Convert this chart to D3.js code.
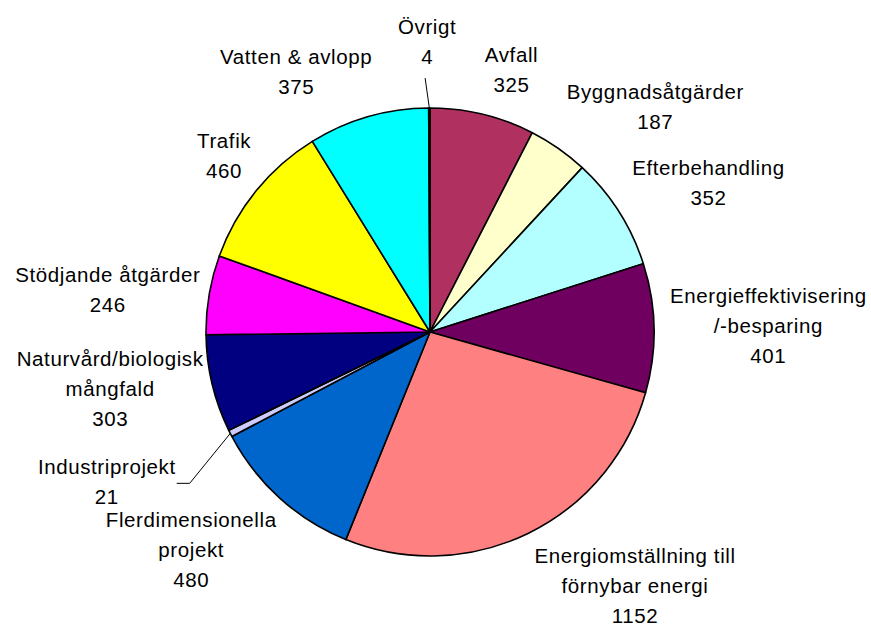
<!DOCTYPE html>
<html>
<head>
<meta charset="utf-8">
<script src="https://cdn.jsdelivr.net/npm/d3@7"></script>
<style>
  body { margin: 0; background: #fff; }
  text { font-family: "Liberation Sans", Arial, sans-serif; font-size: 20.5px; letter-spacing: 0.6px; fill: #000; }
</style>
</head>
<body>
<svg id="chart" width="871" height="628"></svg>
<script>
// slices, clockwise from 12 o'clock
const categories = ["Avfall", "Byggnadsåtgärder", "Efterbehandling", "Energieffektivisering\n/-besparing",
  "Energiomställning till\nförnybar energi", "Flerdimensionella\nprojekt", "Industriprojekt",
  "Naturvård/biologisk\nmångfald", "Stödjande åtgärder", "Trafik", "Vatten & avlopp", "Övrigt"];
const values = [325, 187, 352, 401, 1152, 480, 21, 303, 246, 460, 375, 4];
const colors = ["#b03060", "#ffffcc", "#b3ffff", "#700060", "#ff8080", "#0066cc", "#ccccff",
  "#000080", "#ff00ff", "#ffff00", "#00ffff", "#800080"];

const cx = 430, cy = 332, R = 224;
const lineH = 30;

// labels that were dragged away and get a leader line
const leaders = {
  "Industriprojekt": { r: 284, deg: 237.8, tail: 13 },
  "Övrigt": { r: 254, deg: 358.9, tail: 0 }
};

const data = categories.map((c, i) => ({ name: c, value: values[i], color: colors[i] }));

let svg = d3.select('#chart');
let g = svg.append('g').attr('transform', `translate(${cx},${cy})`);

let pie = d3.pie().value((d) => d.value).sort(null);
let arc = d3.arc().innerRadius(0).outerRadius(R);
let arcs = pie(data);

g.selectAll('path.slice').data(arcs).enter().append('path')
  .attr('class', 'slice')
  .attr('d', arc)
  .attr('fill', (d) => d.data.color)
  .attr('stroke', '#000')
  .attr('stroke-width', 1.6)
  .attr('stroke-linejoin', 'round');

let polar = (r, a) => [r * Math.sin(a), -r * Math.cos(a)];
let clamp = (v) => Math.max(0, Math.min(1, v));

arcs.forEach(function (d) {
  let lines = d.data.name.split('\n').concat([String(d.data.value)]);
  let mid = (d.startAngle + d.endAngle) / 2;
  let s = Math.sin(mid), c = Math.cos(mid);

  let t = g.append('text').attr('text-anchor', 'middle');
  lines.forEach((l) => t.append('tspan').text(l));
  let w = d3.max(t.selectAll('tspan').nodes(), (n) => n.getComputedTextLength());
  let h = (lines.length - 1) * lineH + 21;

  let x, yc;
  let lead = leaders[d.data.name];
  if (lead) {
    let a = lead.deg * Math.PI / 180;
    let p0 = polar(R, mid), p1 = polar(lead.r, a);
    let p2 = [p1[0] - lead.tail, p1[1]];
    g.append('polyline')
      .attr('points', [p0, p1, p2].map((p) => p.join(',')).join(' '))
      .attr('fill', 'none').attr('stroke', '#000').attr('stroke-width', 1);
    if (lead.tail) {
      x = p2[0] - 1 - w / 2;
      yc = p2[1];
    } else {
      x = p2[0] + 2;
      yc = p2[1] - 9 - h / 2;
    }
  } else {
    let p = polar(R + 18, mid);
    x = s > 0 ? p[0] - 2 + w / 2 : p[0] + 9 - w / 2;
    let f = clamp((Math.abs(c) - 0.2) / 0.5);
    yc = p[1] - Math.sign(c) * f * h / 2;
  }
  let y0 = yc - ((lines.length - 1) * lineH - 11) / 2;
  // keep the last line inside the picture
  y0 = Math.min(y0, (623 - cy) - (lines.length - 1) * lineH);
  t.selectAll('tspan')
    .attr('x', x)
    .attr('y', (l, i) => y0 + i * lineH);
});
</script>
</body>
</html>
